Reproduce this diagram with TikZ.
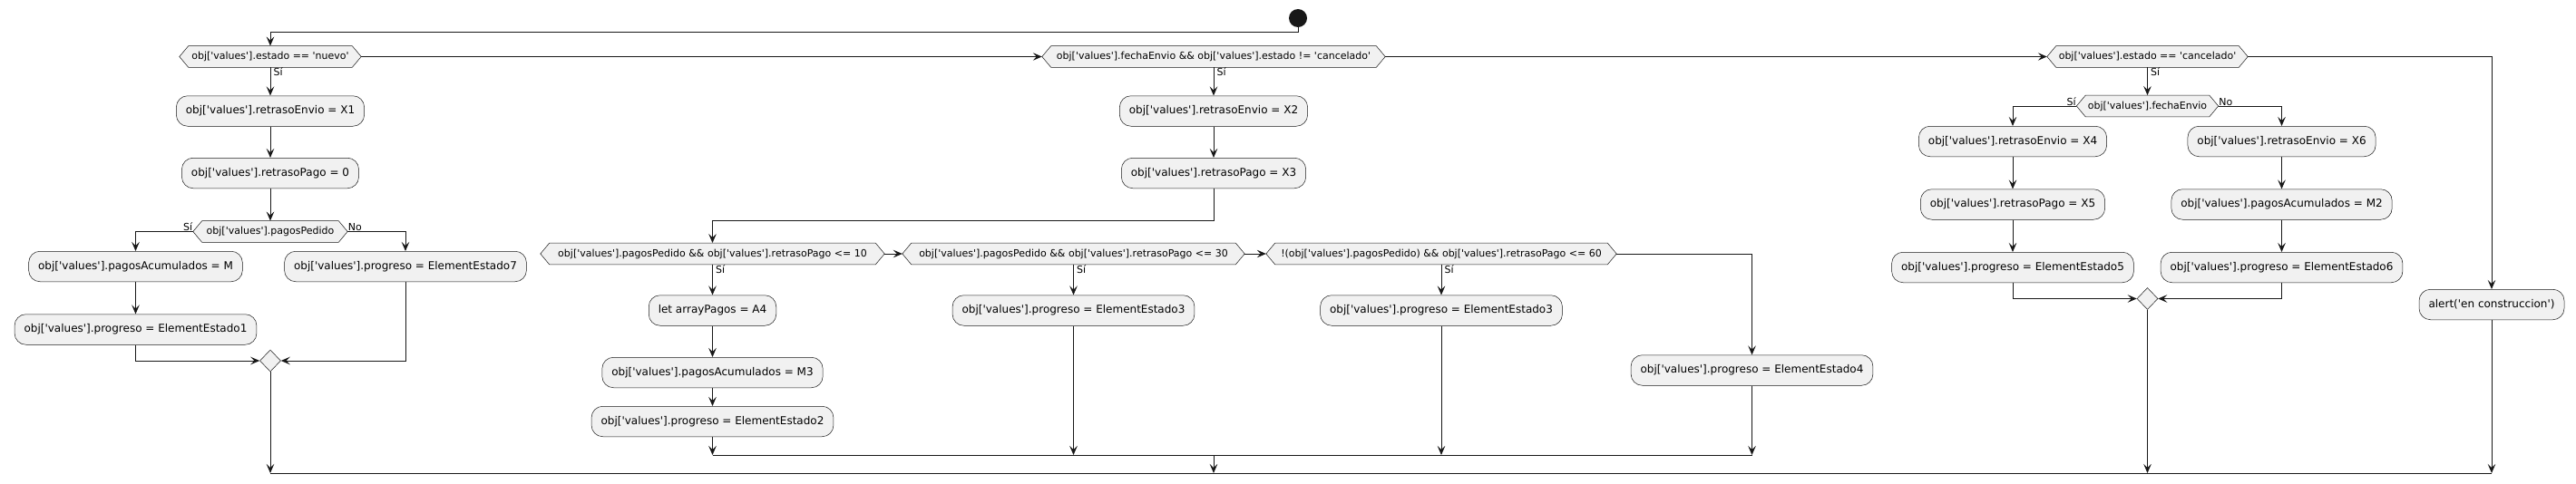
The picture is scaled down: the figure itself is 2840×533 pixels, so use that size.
\documentclass[tikz,border=0pt]{standalone}
\usepackage{fontspec}
\newfontfamily\pf{DejaVu Sans}
\usetikzlibrary{arrows.meta,backgrounds,shapes.geometric}
\definecolor{lc}{HTML}{181818}
\definecolor{bf}{HTML}{F1F1F1}
\newcommand\myactfont{\pf\fontsize{12}{14}\selectfont}
\newcommand\mydecfont{\pf\fontsize{11}{13}\selectfont}
\newcommand\hexa[1]{\begin{scope}[on background layer]\filldraw[decshape] (#1.west) -- ([xshift=10pt]#1.north west) -- ([xshift=-10pt]#1.north east) -- (#1.east) -- ([xshift=-10pt]#1.south east) -- ([xshift=10pt]#1.south west) -- cycle;\end{scope}}
\tikzset{
 act/.style={draw=lc, fill=bf, line width=0.5pt, rounded corners=12.5pt, minimum height=33.5pt, inner xsep=10.5pt, inner ysep=0pt, font=\myactfont},
 dec/.style={inner sep=0pt, minimum height=23.5pt, font=\mydecfont},
 decshape/.style={draw=lc, fill=bf, line width=0.5pt},
 mrg/.style={diamond, draw=lc, fill=bf, line width=0.5pt, inner sep=0pt, minimum width=23pt, minimum height=24pt},
 startc/.style={circle, fill=lc, inner sep=0pt, minimum size=20pt},
 flow/.style={draw=lc, line width=1pt, -{Stealth[length=10pt,width=8.5pt,inset=4pt]}},
 plain/.style={draw=lc, line width=1pt},
 lbl/.style={font=\mydecfont, inner sep=0.5pt, text=black},
}
\begin{document}
\begin{tikzpicture}[x=1pt,y=-1pt]
\useasboundingbox (0,0) rectangle (2840,533);
\begin{scope}[on background layer]\fill[white] (0,0) rectangle (2840,533);\end{scope}

% start
\node[startc] (start) at (1431,20) {};

% branch 1
\node[dec, minimum width=200pt] (d1) at (298,62.5) {obj['values'].estado == 'nuevo'};\hexa{d1}
\node[act] (b1) at (298,122.5) {obj['values'].retrasoEnvio = X1};
\node[act] (b2) at (298,191) {obj['values'].retrasoPago = 0};
\node[dec, minimum width=170pt] (dpp) at (298,255.5) {obj['values'].pagosPedido};\hexa{dpp}
\node[act] (bM) at (149.5,294) {obj['values'].pagosAcumulados = M};
\node[act] (bEE1) at (149.5,363.5) {obj['values'].progreso = ElementEstado1};
\node[act] (bEE7) at (447,294) {obj['values'].progreso = ElementEstado7};
\node[mrg] (m1) at (298,398) {};

% branch 2
\node[dec, minimum width=378pt] (d2) at (1338,62.5) {obj['values'].fechaEnvio \&\& obj['values'].estado != 'cancelado'};\hexa{d2}
\node[act] (bX2) at (1338,122.5) {obj['values'].retrasoEnvio = X2};
\node[act] (bX3) at (1338,191) {obj['values'].retrasoPago = X3};
\node[dec, minimum width=379pt] (d3a) at (785.5,280) {obj['values'].pagosPedido \&\& obj['values'].retrasoPago <= 10};\hexa{d3a}
\node[dec, minimum width=377pt] (d3b) at (1183.5,280) {obj['values'].pagosPedido \&\& obj['values'].retrasoPago <= 30};\hexa{d3b}
\node[dec, minimum width=386pt] (d3c) at (1589,280) {!(obj['values'].pagosPedido) \&\& obj['values'].retrasoPago <= 60};\hexa{d3c}
\node[act] (bA4) at (785.5,342.5) {let arrayPagos = A4};
\node[act] (bM3) at (785.5,411) {obj['values'].pagosAcumulados = M3};
\node[act] (bEE2) at (785.5,465) {obj['values'].progreso = ElementEstado2};
\node[act] (bEE3a) at (1183.5,342.5) {obj['values'].progreso = ElementEstado3};
\node[act] (bEE3b) at (1589,342.5) {obj['values'].progreso = ElementEstado3};
\node[act] (bEE4) at (1931.5,408.5) {obj['values'].progreso = ElementEstado4};

% branch 3
\node[dec, minimum width=221pt] (d4) at (2367.5,62.5) {obj['values'].estado == 'cancelado'};\hexa{d4}
\node[dec, minimum width=156pt] (d5) at (2367.5,117) {obj['values'].fechaEnvio};\hexa{d5}
\node[act] (bX4) at (2219,156) {obj['values'].retrasoEnvio = X4};
\node[act] (bX5) at (2219,225.5) {obj['values'].retrasoPago = X5};
\node[act] (bEE5) at (2219,295) {obj['values'].progreso = ElementEstado5};
\node[act] (bX6) at (2515.5,156) {obj['values'].retrasoEnvio = X6};
\node[act] (bM2) at (2515.5,225.5) {obj['values'].pagosAcumulados = M2};
\node[act] (bEE6) at (2515.5,295) {obj['values'].progreso = ElementEstado6};
\node[mrg] (m2) at (2367.5,329.5) {};
\node[act] (bAl) at (2747,336) {alert('en construccion')};

% labels
\node[lbl, anchor=north west] (s1) at ([xshift=3pt]d1.south) {Sí};
\node[lbl, anchor=south east] (s2) at (dpp.west) {Sí};
\node[lbl, anchor=south west] (n2) at (dpp.east) {No};
\node[lbl, anchor=north west] (s3) at ([xshift=3pt]d2.south) {Sí};
\node[lbl, anchor=north west] (s4) at ([xshift=3pt]d3a.south) {Sí};
\node[lbl, anchor=north west] (s5) at ([xshift=3pt]d3b.south) {Sí};
\node[lbl, anchor=north west] (s6) at ([xshift=3pt]d3c.south) {Sí};
\node[lbl, anchor=north west] (s7) at ([xshift=3pt]d4.south) {Sí};
\node[lbl, anchor=south east] (s8) at (d5.west) {Sí};
\node[lbl, anchor=south west] (n8) at (d5.east) {No};

% coordinates for merges
\coordinate (ja) at (d3a |- 0,502);
\coordinate (jd) at (bEE4 |- 0,502);
\coordinate (jm) at (d2 |- 0,502);
\coordinate (fl) at (m1 |- 0,522);
\coordinate (fr) at (bAl |- 0,522);

% connectors
\draw[flow] (start) -- (start |- 0,35) -| (d1);
\draw[flow] (d1) -- (b1);
\draw[flow] (b1) -- (b2);
\draw[flow] (b2) -- (dpp);
\draw[flow] (dpp.west) -| (bM);
\draw[flow] (dpp.east) -| (bEE7);
\draw[flow] (bM) -- (bEE1);
\draw[flow] (bEE1) |- (m1);
\draw[flow] (bEE7) |- (m1);
\draw[flow] (m1) -- (fl);

\draw[flow] (d1.east) -- (d2.west);
\draw[flow] (d2) -- (bX2);
\draw[flow] (bX2) -- (bX3);
\draw[flow] (bX3) -- (bX3 |- 0,243) -| (d3a);
\draw[flow] (d3a) -- (bA4);
\draw[flow] (bA4) -- (bM3);
\draw[flow] (bM3) -- (bEE2);
\draw[flow] (bEE2) -- (ja);
\draw[flow] (d3a.east) -- (d3b.west);
\draw[flow] (d3b) -- (bEE3a);
\draw[flow] (bEE3a) -- (bEE3a |- ja);
\draw[flow] (d3b.east) -- (d3c.west);
\draw[flow] (d3c) -- (bEE3b);
\draw[flow] (bEE3b) -- (bEE3b |- ja);
\draw[flow] (d3c.east) -| (bEE4);
\draw[flow] (bEE4) -- (jd);
\draw[plain] (ja) -- (jd);
\draw[flow] (jm) -- (jm |- fl);

\draw[flow] (d2.east) -- (d4.west);
\draw[flow] (d4) -- (d5);
\draw[flow] (d5.west) -| (bX4);
\draw[flow] (d5.east) -| (bX6);
\draw[flow] (bX4) -- (bX5);
\draw[flow] (bX5) -- (bEE5);
\draw[flow] (bX6) -- (bM2);
\draw[flow] (bM2) -- (bEE6);
\draw[flow] (bEE5) |- (m2);
\draw[flow] (bEE6) |- (m2);
\draw[flow] (m2) -- (m2 |- fl);
\draw[flow] (d4.east) -| (bAl);
\draw[flow] (bAl) -- (fr);
\draw[plain] (fl) -- (fr);
\end{tikzpicture}
\end{document}
